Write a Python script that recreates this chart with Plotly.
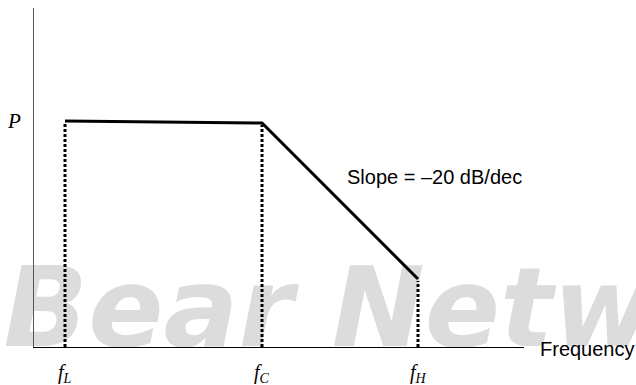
import plotly.graph_objects as go

# ---- data ----
freq_names = ["f<sub>L</sub>", "f<sub>C</sub>", "f<sub>H</sub>"]
freq_x = [31, 228, 384]          # positions of fL, fc, fH along the frequency axis
power_y = [226, 224, 68]          # response level at fL, fc, fH
level_label = "P"
slope_text = "Slope = \u201320 dB/dec"
axis_title = "Frequency"
watermark = "Bear Network"

X_RANGE = [0, 490]
Y_RANGE = [0, 339]

fig = go.Figure()

# watermark (drawn first so everything else lies on top)
fig.add_trace(go.Scatter(
    x=[398], y=[29], mode="text", text=[f"<b><i>{watermark}</i></b>"],
    textposition="middle center",
    textfont=dict(family="DejaVu Sans", size=111, color="#dcdcdc"),
    cliponaxis=False, hoverinfo="skip", showlegend=False,
))

# dotted verticals from the response down to the axis
for fx, py in zip(freq_x, power_y):
    fig.add_trace(go.Scatter(
        x=[fx, fx], y=[0, py - 2], mode="lines",
        line=dict(color="black", width=3, dash="3px,2px"),
        hoverinfo="skip", showlegend=False, cliponaxis=False,
    ))

# response curve
fig.add_trace(go.Scatter(
    x=freq_x, y=power_y, mode="lines",
    line=dict(color="black", width=3),
    hoverinfo="skip", showlegend=False, cliponaxis=False,
))

annotations = []
for fx, name in zip(freq_x, freq_names):
    annotations.append(dict(
        x=fx, y=0, xref="x", yref="y", text=f"<i>{name}</i>", showarrow=False,
        xanchor="center", yanchor="top", yshift=-12,
        font=dict(family="Liberation Serif, Times New Roman", size=20, color="black"),
    ))
annotations.append(dict(
    x=0, y=power_y[0], xref="paper", yref="y", text=f"<i>{level_label}</i>", showarrow=False,
    xanchor="right", yanchor="middle", xshift=-11,
    font=dict(family="Liberation Serif, Times New Roman", size=21, color="black"),
))
annotations.append(dict(
    x=311, y=170, xref="x", yref="y", text=slope_text, showarrow=False,
    xanchor="left", yanchor="middle",
    font=dict(family="Liberation Sans, Arial", size=20, color="black"),
))
annotations.append(dict(
    x=1, y=0, xref="paper", yref="y", text=axis_title, showarrow=False,
    xanchor="left", yanchor="middle", xshift=14, yshift=-2,
    font=dict(family="Liberation Sans, Arial", size=20, color="black"),
))

fig.update_layout(
    width=636, height=385,
    margin=dict(l=34, r=112, t=8, b=38),
    paper_bgcolor="white", plot_bgcolor="white",
    showlegend=False,
    annotations=annotations,
    xaxis=dict(range=X_RANGE, showgrid=False, zeroline=False, showticklabels=False,
               ticks="", showline=True, linecolor="black", linewidth=1, fixedrange=True),
    yaxis=dict(range=Y_RANGE, showgrid=False, zeroline=False, showticklabels=False,
               ticks="", showline=True, linecolor="#555555", linewidth=1.3, fixedrange=True),
)

fig.write_html(
    "out.html",
    config={"displayModeBar": False, "staticPlot": True},
    post_script="document.body.style.margin='0';document.body.style.overflow='hidden';",
)
